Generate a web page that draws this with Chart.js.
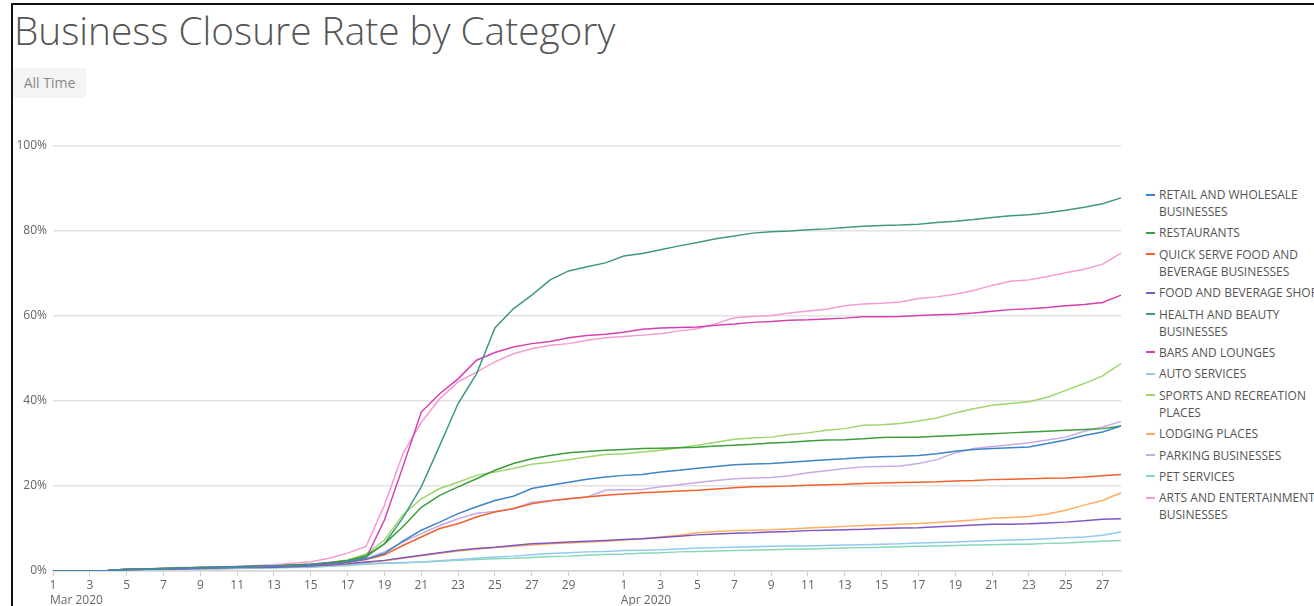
<!DOCTYPE html>
<html>
<head>
<meta charset="utf-8">
<script src="https://cdn.jsdelivr.net/npm/chart.js@4"></script>
<style>
  html, body { margin: 0; padding: 0; background: #fff; }
  body { width: 1314px; height: 606px; overflow: hidden; position: relative; font-family: 'Open Sans', sans-serif; }
  #frame { position: absolute; left: 11px; top: 3px; width: 1320px; height: 620px; border-left: 2px solid #111; border-top: 2px solid #111; }
  h1 { position: absolute; left: 14px; top: 4px; margin: 0; font-size: 38.8px; font-weight: 300; color: #555; white-space: nowrap; }
  #range { position: absolute; left: 13px; top: 68px; width: 73px; height: 30px; background: #f4f4f4; border-radius: 3px;
           font-size: 14px; color: #888; line-height: 30px; text-align: center; }
  #wrap { position: absolute; left: 0; top: 0; width: 1140px; height: 606px; }
  #legend { position: absolute; left: 1146px; top: 186px; width: 200px; }
  .item { display: flex; align-items: flex-start; margin-bottom: 4.4px; }
  .sw { width: 9px; height: 2px; margin-top: 7.5px; margin-right: 4px; flex: none; }
  .txt { width: 180px; font-size: 12px; line-height: 17px; color: #555; }
</style>
</head>
<body>
<div id="frame"></div>
<h1>Business Closure Rate by Category</h1>
<div id="range">All Time</div>
<div id="wrap"><canvas id="myChart" width="1140" height="606"></canvas></div>
<div id="legend"></div>
<script>
// dates, Mar 1 2020 .. Apr 28 2020
const days = [
    'Mar 1','Mar 2','Mar 3','Mar 4','Mar 5','Mar 6','Mar 7','Mar 8','Mar 9','Mar 10',
    'Mar 11','Mar 12','Mar 13','Mar 14','Mar 15','Mar 16','Mar 17','Mar 18','Mar 19','Mar 20',
    'Mar 21','Mar 22','Mar 23','Mar 24','Mar 25','Mar 26','Mar 27','Mar 28','Mar 29','Mar 30','Mar 31',
    'Apr 1','Apr 2','Apr 3','Apr 4','Apr 5','Apr 6','Apr 7','Apr 8','Apr 9','Apr 10',
    'Apr 11','Apr 12','Apr 13','Apr 14','Apr 15','Apr 16','Apr 17','Apr 18','Apr 19','Apr 20',
    'Apr 21','Apr 22','Apr 23','Apr 24','Apr 25','Apr 26','Apr 27','Apr 28'
];
const monthLabels = [['Mar 1', 'Mar 2020'], ['Apr 1', 'Apr 2020']];
const yTicks = [0, 20, 40, 60, 80, 100];

const retail = [0,0,0,0.1,0.3,0.4,0.5,0.6,0.7,0.8,0.9,1.0,1.1,1.2,1.4,1.7,
    2.1,2.8,4.1,7.0,9.6,11.5,13.5,15.1,16.6,17.6,19.4,20.2,20.9,21.6,22.1,
    22.5,22.7,23.3,23.7,24.2,24.6,25.0,25.2,25.3,25.6,25.9,26.2,26.4,26.7,26.9,27.0,27.2,27.6,28.2,28.6,28.8,29.0,29.2,30.0,30.8,31.9,32.7,34.1];
const restaurants = [0,0,0,0.1,0.4,0.5,0.6,0.7,0.8,0.9,1.0,1.1,1.2,1.4,1.6,1.9,
    2.5,3.6,6.4,10.4,15.0,17.8,19.8,21.7,23.7,25.3,26.4,27.2,27.8,28.1,28.4,
    28.6,28.8,28.9,29.0,29.1,29.4,29.6,29.8,30.1,30.3,30.6,30.8,30.9,31.1,31.4,31.5,31.5,31.7,31.9,32.1,32.3,32.5,32.7,32.9,33.1,33.3,33.5,34.1];
const quickServe = [0,0,0,0.1,0.3,0.4,0.5,0.6,0.7,0.8,0.9,1.0,1.1,1.2,1.4,1.6,
    2.0,2.7,3.8,6.0,8.0,10.0,11.1,12.7,13.9,14.7,15.8,16.5,17.0,17.4,17.8,
    18.1,18.4,18.6,18.8,19.0,19.3,19.6,19.8,19.9,20.0,20.2,20.3,20.4,20.6,20.7,20.8,20.9,21.0,21.2,21.3,21.5,21.6,21.7,21.8,21.9,22.1,22.4,22.7];
const foodShops = [0,0,0,0.1,0.3,0.4,0.5,0.5,0.6,0.7,0.8,0.8,0.9,1.0,1.2,1.4,
    1.7,2.1,2.5,3.1,3.7,4.3,4.9,5.3,5.6,6.0,6.4,6.6,6.8,7.0,7.2,
    7.4,7.6,7.9,8.2,8.5,8.7,8.9,9.0,9.2,9.3,9.5,9.6,9.7,9.8,10.0,10.1,10.2,10.4,10.6,10.8,11.0,11.0,11.1,11.3,11.5,11.8,12.2,12.3];
const healthBeauty = [0,0,0,0.1,0.4,0.5,0.6,0.7,0.8,0.9,1.0,1.1,1.2,1.3,1.5,1.9,
    2.4,3.3,6.4,12.5,19.8,29.5,39.4,46.4,57.2,61.7,64.9,68.5,70.6,71.6,72.5,
    74.1,74.7,75.6,76.5,77.3,78.2,78.8,79.5,79.8,80.0,80.3,80.5,80.8,81.1,81.3,81.4,81.6,82.0,82.3,82.7,83.2,83.6,83.8,84.3,84.9,85.6,86.4,87.8];
const bars = [0,0,0,0.1,0.4,0.5,0.6,0.7,0.8,0.9,1.0,1.1,1.2,1.4,1.6,2.0,
    2.4,3.0,12.0,24.5,37.4,41.7,45.2,49.6,51.4,52.7,53.5,54.0,54.9,55.4,55.7,
    56.2,56.9,57.2,57.3,57.4,57.8,58.1,58.5,58.7,59.0,59.1,59.3,59.5,59.8,59.8,59.9,60.1,60.3,60.4,60.7,61.1,61.5,61.7,62.0,62.4,62.7,63.2,64.9];
const auto = [0,0,0,0.1,0.3,0.3,0.4,0.5,0.5,0.6,0.7,0.7,0.8,0.9,1.0,1.2,
    1.4,1.7,1.9,2.0,2.1,2.4,2.7,3.0,3.3,3.5,3.8,4.1,4.3,4.5,4.6,
    4.8,4.9,5.0,5.2,5.4,5.5,5.6,5.7,5.8,5.9,5.9,6.0,6.1,6.2,6.3,6.4,6.6,6.7,6.8,7.0,7.2,7.3,7.4,7.6,7.8,8.0,8.4,9.2];
const sports = [0,0,0,0.1,0.4,0.5,0.6,0.7,0.8,0.9,1.0,1.1,1.2,1.4,1.6,2.0,
    2.6,4.0,7.3,13.2,17.0,19.4,20.9,22.5,23.3,24.1,25.1,25.6,26.2,26.8,27.4,
    27.6,28.0,28.4,29.0,29.6,30.3,31.0,31.3,31.5,32.1,32.5,33.1,33.5,34.3,34.4,34.7,35.3,36.0,37.2,38.2,39.0,39.4,39.8,40.9,42.5,44.1,45.9,48.8];
const lodging = [0,0,0,0.1,0.3,0.4,0.4,0.5,0.6,0.7,0.7,0.8,0.9,1.0,1.1,1.3,
    1.6,2.0,2.4,3.0,3.6,4.2,4.7,5.1,5.5,5.8,6.1,6.4,6.6,6.8,7.0,
    7.3,7.6,8.0,8.4,9.0,9.3,9.5,9.6,9.7,9.9,10.1,10.3,10.5,10.7,10.8,11.0,11.2,11.4,11.7,12.0,12.4,12.6,12.8,13.4,14.3,15.5,16.6,18.4];
const parking = [0,0,0,0.1,0.3,0.4,0.5,0.6,0.7,0.8,0.9,1.0,1.1,1.2,1.4,1.7,
    2.1,2.9,4.5,6.8,8.8,10.7,12.3,13.6,14.0,14.6,16.2,16.6,17.0,17.4,19.0,
    19.1,19.2,19.8,20.3,20.8,21.3,21.7,21.9,22.0,22.4,23.1,23.6,24.1,24.5,24.6,24.7,25.3,26.2,27.8,28.8,29.3,29.7,30.2,30.8,31.5,32.9,33.9,35.2];
const pet = [0,0,0,0.1,0.2,0.3,0.3,0.4,0.5,0.5,0.6,0.7,0.7,0.8,0.9,1.1,
    1.3,1.6,1.8,1.9,2.1,2.3,2.5,2.7,2.9,3.0,3.2,3.4,3.5,3.7,3.9,
    4.0,4.2,4.3,4.5,4.6,4.7,4.8,4.9,5.0,5.1,5.2,5.3,5.4,5.5,5.6,5.7,5.8,5.9,6.0,6.1,6.2,6.3,6.3,6.5,6.6,6.8,7.0,7.2];
const arts = [0,0,0,0.1,0.4,0.5,0.7,0.8,0.9,1.0,1.1,1.3,1.5,1.8,2.2,3.0,
    4.2,5.8,15.5,27.6,35.0,40.5,44.5,46.8,49.2,51.1,52.3,53.1,53.5,54.3,54.9,
    55.2,55.5,55.8,56.5,57.0,58.2,59.6,59.9,60.1,60.7,61.2,61.6,62.4,62.8,63.0,63.3,64.1,64.5,65.1,66.0,67.2,68.2,68.5,69.3,70.2,71.0,72.2,74.8];

const series = [
    ['RETAIL AND WHOLESALE BUSINESSES', retail, 'rgb(61, 133, 198)'],
    ['RESTAURANTS', restaurants, 'rgb(58, 158, 58)'],
    ['QUICK SERVE FOOD AND BEVERAGE BUSINESSES', quickServe, 'rgb(242, 96, 44)'],
    ['FOOD AND BEVERAGE SHOPS', foodShops, 'rgb(126, 87, 194)'],
    ['HEALTH AND BEAUTY BUSINESSES', healthBeauty, 'rgb(64, 152, 128)'],
    ['BARS AND LOUNGES', bars, 'rgb(214, 64, 176)'],
    ['AUTO SERVICES', auto, 'rgb(146, 201, 239)'],
    ['SPORTS AND RECREATION PLACES', sports, 'rgb(159, 214, 107)'],
    ['LODGING PLACES', lodging, 'rgb(255, 173, 96)'],
    ['PARKING BUSINESSES', parking, 'rgb(200, 170, 232)'],
    ['PET SERVICES', pet, 'rgb(134, 216, 182)'],
    ['ARTS AND ENTERTAINMENT BUSINESSES', arts, 'rgb(245, 155, 212)']
];

Chart.defaults.font.family = "'Open Sans', sans-serif";
Chart.defaults.font.size = 12;
Chart.defaults.color = '#666';

// month names under the first tick of each month
const monthPlugin = {
    id: 'months',
    afterDraw(chart) {
        const c = chart.ctx;
        const xs = chart.scales.x;
        c.save();
        c.font = "12px 'Open Sans', sans-serif";
        c.fillStyle = '#666';
        c.textAlign = 'left';
        c.textBaseline = 'middle';
        monthLabels.forEach(m => {
            c.fillText(m[1], xs.getPixelForValue(days.indexOf(m[0])) - 3, 601);
        });
        c.restore();
    }
};

const ctx = document.getElementById('myChart').getContext('2d');
const myChart = new Chart(ctx, {
    type: 'line',
    data: {
        labels: days,
        datasets: series.map(s => ({
            label: s[0],
            data: s[1],
            borderColor: s[2],
            backgroundColor: s[2],
            borderWidth: 1.5,
            pointRadius: 0,
            tension: 0,
            fill: false
        }))
    },
    options: {
        responsive: false,
        animation: false,
        layout: {
            padding: { left: 0, right: 19, top: 146, bottom: 0 }
        },
        plugins: {
            legend: { display: false },
            tooltip: { enabled: false }
        },
        scales: {
            x: {
                offset: false,
                afterFit: s => { s.height = 35; },
                border: { color: '#d6d6d6', width: 1.5 },
                grid: { drawOnChartArea: false, drawTicks: true, tickLength: 5, color: '#d0d0d0' },
                ticks: {
                    autoSkip: false,
                    maxRotation: 0,
                    padding: 2,
                    callback: function (val) {
                        const day = +this.getLabelForValue(val).split(' ')[1];
                        return (day % 2 === 1 && day !== 31) ? String(day) : null;
                    }
                }
            },
            y: {
                min: 0,
                max: 100,
                afterFit: s => { s.width = 53; },
                afterBuildTicks: s => { s.ticks = yTicks.map(v => ({ value: v })); },
                border: { display: false },
                grid: { color: '#e2e2e2', lineWidth: 1.5, drawTicks: false },
                ticks: {
                    padding: 6,
                    callback: v => v + '%'
                }
            }
        }
    },
    plugins: [monthPlugin]
});

// legend on the right, wrapping long names
const legend = document.getElementById('legend');
myChart.data.datasets.forEach(ds => {
    const item = document.createElement('div');
    item.className = 'item';
    item.innerHTML = '<div class="sw" style="background:' + ds.borderColor + '"></div><div class="txt">' + ds.label + '</div>';
    legend.appendChild(item);
});
</script>
</body>
</html>
